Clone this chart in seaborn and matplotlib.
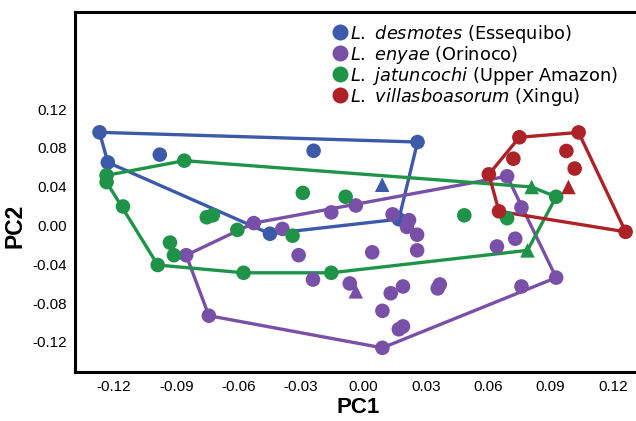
import numpy as np
import pandas as pd
import matplotlib
matplotlib.use("Agg")
import matplotlib.pyplot as plt
from matplotlib.lines import Line2D
import seaborn as sns

# ---------------- data ----------------
groups = ["desmotes", "enyae", "jatuncochi", "villasboasorum"]
legend_species = ["L. desmotes", "L. enyae", "L. jatuncochi", "L. villasboasorum"]
legend_regions = ["(Essequibo)", "(Orinoco)", "(Upper Amazon)", "(Xingu)"]
colors = ["#3b5aa9", "#7950a8", "#1f9448", "#ad2227"]

desmotes_x = [-0.127, -0.123, -0.098, -0.024, 0.026, 0.017, -0.045, 0.009]
desmotes_y = [0.096, 0.065, 0.073, 0.077, 0.086, 0.0065, -0.0085, 0.042]
desmotes_m = ["o", "o", "o", "o", "o", "o", "o", "^"]

enyae_x = [-0.0528, -0.0390, -0.0155, -0.0037, -0.0853, -0.0744, -0.0312, -0.0243, -0.0066,
           0.0140, 0.0219, 0.0209, 0.0258, 0.0258, 0.0042, 0.0691, 0.0760, 0.0642, 0.0730,
           0.0927, 0.0760, 0.0131, 0.0190, 0.0357, 0.0367, 0.0091, 0.0170, 0.0190, 0.0091, -0.0037]
enyae_y = [0.0025, -0.0035, 0.0135, 0.0206, -0.0306, -0.0929, -0.0306, -0.0557, -0.0597,
           0.0115, 0.0055, -0.0015, -0.0095, -0.0256, -0.0276, 0.0507, 0.0186, -0.0216, -0.0136,
           -0.0537, -0.0628, -0.0698, -0.0628, -0.0648, -0.0607, -0.0879, -0.1069, -0.1039, -0.1260, -0.0678]
enyae_m = ["o"] * 29 + ["^"]

jatun_x = [-0.1236, -0.1236, -0.1157, -0.0862, -0.0754, -0.0725, -0.0607, -0.0931, -0.0912, -0.0990,
           -0.0577, -0.0155, -0.0341, -0.0292, -0.0086, 0.0485, 0.0691, 0.0927, 0.0809, 0.0789]
jatun_y = [0.0517, 0.0447, 0.0196, 0.0668, 0.0085, 0.0105, -0.0045, -0.0176, -0.0306, -0.0407,
           -0.0487, -0.0487, -0.0105, 0.0336, 0.0296, 0.0105, 0.0075, 0.0296, 0.0397, -0.0256]
jatun_m = ["o"] * 18 + ["^", "^"]

villas_x = [0.0603, 0.0750, 0.1035, 0.1261, 0.0652, 0.0721, 0.0976, 0.1016, 0.0986]
villas_y = [0.0527, 0.0909, 0.0959, -0.0065, 0.0146, 0.0688, 0.0768, 0.0587, 0.0397]
villas_m = ["o"] * 8 + ["^"]

x_ticks = [-0.12, -0.09, -0.06, -0.03, 0.00, 0.03, 0.06, 0.09, 0.12]
y_ticks = [-0.12, -0.08, -0.04, 0.00, 0.04, 0.08, 0.12]

frames = []
for g, xs, ys, ms in zip(groups,
                         [desmotes_x, enyae_x, jatun_x, villas_x],
                         [desmotes_y, enyae_y, jatun_y, villas_y],
                         [desmotes_m, enyae_m, jatun_m, villas_m]):
    frames.append(pd.DataFrame({"PC1": xs, "PC2": ys, "group": g, "marker": ms}))
df = pd.concat(frames, ignore_index=True)


def convex_hull(pts):
    pts = sorted(set(pts))
    if len(pts) <= 2:
        return pts
    def cross(o, a, b):
        return (a[0] - o[0]) * (b[1] - o[1]) - (a[1] - o[1]) * (b[0] - o[0])
    lower, upper = [], []
    for p in pts:
        while len(lower) >= 2 and cross(lower[-2], lower[-1], p) <= 0:
            lower.pop()
        lower.append(p)
    for p in reversed(pts):
        while len(upper) >= 2 and cross(upper[-2], upper[-1], p) <= 0:
            upper.pop()
        upper.append(p)
    return lower[:-1] + upper[:-1]


# ---------------- plot ----------------
sns.set_style("white")
plt.rcParams["font.family"] = ["Liberation Sans", "DejaVu Sans"]
plt.rcParams["mathtext.fontset"] = "dejavusans"
plt.rcParams["text.color"] = "black"
plt.rcParams["axes.labelcolor"] = "black"
plt.rcParams["xtick.color"] = "black"
plt.rcParams["ytick.color"] = "black"

fig = plt.figure(figsize=(6.36, 4.21), dpi=100)
ax = fig.add_axes([0.1179, 0.1164, 0.8821, 0.855])

palette = dict(zip(groups, colors))

for g in groups:
    sub = df[df["group"] == g]
    hull = convex_hull(list(zip(sub["PC1"], sub["PC2"])))
    hull.append(hull[0])
    hx, hy = zip(*hull)
    ax.plot(hx, hy, color=palette[g], lw=2.4, zorder=2, solid_joinstyle="round")

for g in groups:
    sub = df[df["group"] == g]
    sns.scatterplot(data=sub, x="PC1", y="PC2", style="marker",
                    markers={"o": "o", "^": "^"}, color=palette[g],
                    s=110, linewidth=0, legend=False, ax=ax, zorder=3)

ax.set_xlim(-0.1388, 0.1311)
ax.set_ylim(-0.1509, 0.2199)
ax.set_xticks(x_ticks)
ax.set_yticks(y_ticks)
ax.set_xticklabels([f"{v:.2f}" for v in x_ticks], fontsize=11)
ax.set_yticklabels([f"{v:.2f}" for v in y_ticks], fontsize=11)
ax.tick_params(axis="both", direction="out", length=3.5, width=1.3,
               color="black", labelcolor="black", pad=2)

for side in ["left", "bottom", "top"]:
    ax.spines[side].set_visible(True)
    ax.spines[side].set_linewidth(2.2)
    ax.spines[side].set_color("black")
ax.spines["right"].set_visible(False)

ax.set_xlabel("PC1", fontsize=16, fontweight="bold", color="black")
ax.set_ylabel("PC2", fontsize=16.5, fontweight="bold", color="black")
ax.xaxis.set_label_coords(0.5045, -0.070)
ax.yaxis.set_label_coords(-0.087, 0.407)

handles = [Line2D([0], [0], marker="o", color="none", markerfacecolor=c,
                  markeredgewidth=0, markersize=11.5) for c in colors]
labels = [r"$\it{" + sp.replace(" ", r"\ ") + "}$ " + rg
          for sp, rg in zip(legend_species, legend_regions)]
leg = ax.legend(handles, labels, loc="upper left", bbox_to_anchor=(0.44, 1.0),
                frameon=False, handletextpad=0.1, labelspacing=-0.06,
                borderaxespad=0.2, prop={"family": "DejaVu Sans", "size": 12.8},
                handlelength=0.9)
for t in leg.get_texts():
    t.set_color("black")

fig.savefig("out.png", dpi=100)
